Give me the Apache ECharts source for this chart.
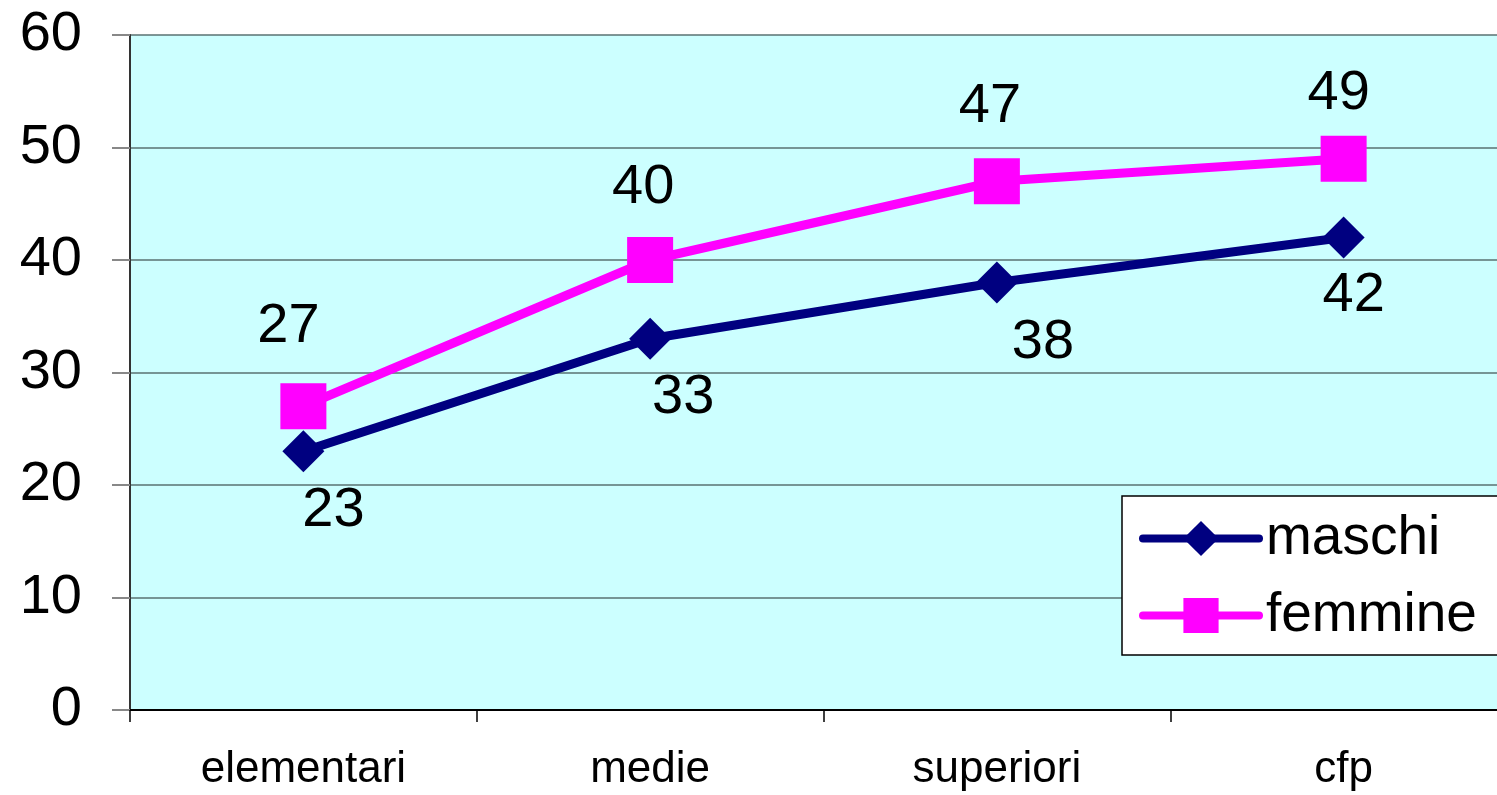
<!DOCTYPE html>
<html>
<head>
<meta charset="utf-8">
<script src="https://cdn.jsdelivr.net/npm/echarts@6/dist/echarts.min.js"></script>
<style>html,body{margin:0;padding:0;background:#fff;overflow:hidden;width:1497px;height:795px;}#c{width:1517px;height:795px;}</style>
</head>
<body>
<div id="c"></div>
<script>
const categories = ['elementari', 'medie', 'superiori', 'cfp'];
const maschi = [23, 33, 38, 42];
const femmine = [27, 40, 47, 49];
const yTicks = [0, 10, 20, 30, 40, 50, 60];

const font = 'Liberation Sans, Arial, sans-serif';
const maschiLabelOffsets = [[30, 59], [33, 59], [46, 60], [10, 58]];
const femmineLabelOffsets = [[-15, -80], [-7, -72], [-7, -75], [-5, -65]];

function build(values, offsets) {
  return values.map((v, i) => ({
    value: v,
    label: { offset: offsets[i] }
  }));
}

const chart = echarts.init(document.getElementById('c'));
chart.setOption({
  backgroundColor: '#ffffff',
  animation: false,
  grid: { left: 130, top: 35, right: 0, height: 675, show: true, backgroundColor: '#CCFFFF', borderWidth: 0 },
  xAxis: {
    type: 'category',
    data: categories,
    boundaryGap: true,
    axisLine: { lineStyle: { color: '#000', width: 2 } },
    axisTick: { show: true, length: 12, lineStyle: { color: '#000', width: 1.5 } },
    axisLabel: { fontFamily: font, fontSize: 44, color: '#000', margin: 38 }
  },
  yAxis: {
    type: 'value',
    min: yTicks[0],
    max: yTicks[yTicks.length - 1],
    interval: 10,
    axisLine: { show: true, lineStyle: { color: '#333', width: 2 } },
    axisTick: { show: true, length: 18, lineStyle: { color: '#888', width: 2 } },
    axisLabel: { fontFamily: font, fontSize: 56, color: '#000', margin: 48 },
    splitLine: { show: true, lineStyle: { color: '#5a7272', width: 1.5 } }
  },
  legend: {
    left: 1122, top: 496,
    orient: 'vertical',
    backgroundColor: '#fff',
    borderColor: '#000',
    borderWidth: 1.5,
    padding: [15, 80, 12, 17],
    itemWidth: 116,
    itemHeight: 44,
    itemGap: 22,
    lineStyle: { width: 8, cap: 'round' },
    textStyle: { fontFamily: font, fontSize: 55, color: '#000', padding: [0, 0, 0, 2] },
    data: ['maschi', 'femmine']
  },
  series: [
    {
      name: 'maschi', type: 'line',
      data: build(maschi, maschiLabelOffsets),
      symbol: 'diamond', symbolSize: 42,
      lineStyle: { color: '#000080', width: 9 },
      itemStyle: { color: '#000080' },
      label: { show: true, position: 'inside', fontFamily: font, fontSize: 56, color: '#000' },
      z: 3
    },
    {
      name: 'femmine', type: 'line',
      data: build(femmine, femmineLabelOffsets),
      symbol: 'rect', symbolSize: 46,
      lineStyle: { color: '#FF00FF', width: 9 },
      itemStyle: { color: '#FF00FF' },
      label: { show: true, position: 'inside', fontFamily: font, fontSize: 56, color: '#000' },
      z: 4
    }
  ]
});
</script>
</body>
</html>
